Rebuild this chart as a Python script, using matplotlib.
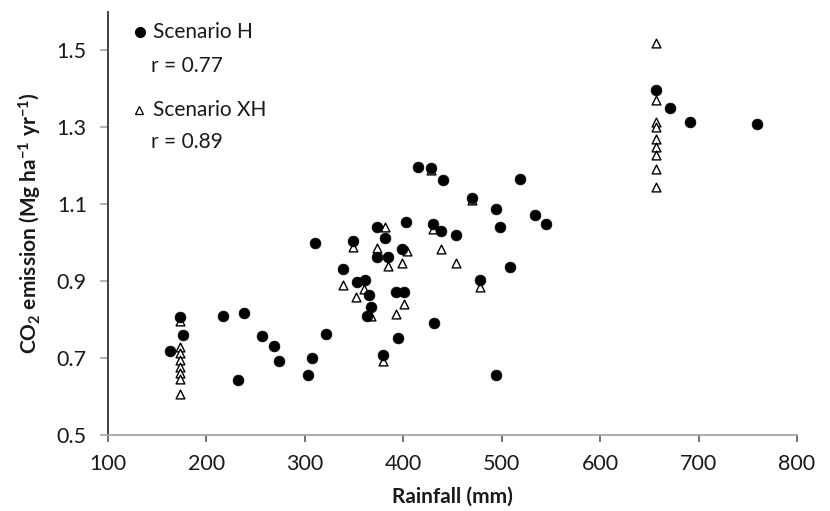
import matplotlib
matplotlib.use("Agg")
import matplotlib.pyplot as plt
import numpy as np

plt.rcParams['font.family'] = ['Lato', 'DejaVu Sans']
plt.rcParams['mathtext.fontset'] = 'custom'
plt.rcParams['mathtext.rm'] = 'Lato'
plt.rcParams['mathtext.bf'] = 'Lato:bold'
plt.rcParams['mathtext.it'] = 'Lato:italic'

# Scenario H (filled circles)
h_rain = [173, 176, 163, 217, 238, 257, 269, 274, 232, 307, 303,
          415, 428, 440, 373, 403, 430, 438, 454, 310, 349, 382,
          373, 385, 399, 339, 353, 361, 365, 393, 401, 367, 363,
          431, 322, 395, 380,
          519, 470, 494, 534, 545, 498, 508, 478, 494,
          657, 671, 691, 759]
h_co2 = [0.807, 0.760, 0.719, 0.809, 0.817, 0.757, 0.731, 0.692, 0.643, 0.700, 0.655,
         1.197, 1.195, 1.164, 1.041, 1.054, 1.050, 1.030, 1.019, 1.000, 1.005, 1.012,
         0.963, 0.963, 0.983, 0.931, 0.898, 0.904, 0.864, 0.871, 0.871, 0.832, 0.810,
         0.790, 0.762, 0.751, 0.708,
         1.165, 1.116, 1.089, 1.073, 1.048, 1.041, 0.937, 0.904, 0.656,
         1.396, 1.351, 1.314, 1.310]

# Scenario XH (open triangles)
xh_rain = [173, 173, 173, 173, 173, 173, 173, 173,
           428, 382, 430, 349, 373, 385, 404, 399, 438, 454, 339, 352, 360,
           401, 393, 367, 380, 478, 470,
           657, 657, 657, 657, 657, 657, 657, 657, 657]
xh_co2 = [0.797, 0.729, 0.712, 0.695, 0.677, 0.662, 0.645, 0.606,
          1.190, 1.041, 1.035, 0.989, 0.986, 0.939, 0.978, 0.948, 0.985, 0.948, 0.890, 0.859, 0.881,
          0.840, 0.814, 0.810, 0.693, 0.885, 1.110,
          1.519, 1.370, 1.315, 1.300, 1.271, 1.249, 1.227, 1.191, 1.146]

x_ticks = [100, 200, 300, 400, 500, 600, 700, 800]
y_ticks = [0.5, 0.7, 0.9, 1.1, 1.3, 1.5]

fig = plt.figure(figsize=(8.30, 5.11), dpi=100)
ax = fig.add_axes([0.1298, 0.1487, 0.8305, 0.8278])

ax.scatter(xh_rain, xh_co2, marker='^', s=40, facecolor='white',
           edgecolor='black', linewidth=1.0, zorder=3)
ax.scatter(h_rain, h_co2, marker='o', s=60, facecolor='black',
           edgecolor='black', linewidth=0.5, zorder=4)

ax.set_xlim(100, 800)
ax.set_ylim(0.5, 1.6)
ax.set_xticks(x_ticks)
ax.set_xticklabels([str(v) for v in x_ticks])
ax.set_yticks(y_ticks)
ax.set_yticklabels([f"{v:.1f}" for v in y_ticks])

for s in ['top', 'right']:
    ax.spines[s].set_visible(False)
ax.spines['left'].set_color('#333333')
ax.spines['left'].set_linewidth(1.3)
ax.spines['bottom'].set_color('#a6a6a6')
ax.spines['bottom'].set_linewidth(1.3)

ax.tick_params(axis='x', direction='out', length=5, width=1.2, color='#595959',
               labelsize=15.5, pad=9, labelcolor='#1a1a1a')
ax.tick_params(axis='y', direction='out', length=6, width=1.2, color='#a6a6a6',
               labelsize=15.5, pad=9, labelcolor='#1a1a1a')

ax.set_xlabel('Rainfall (mm)', fontsize=15, fontweight='bold', labelpad=9,
              color='#1a1a1a')
ax.set_ylabel(r'CO$_\mathbf{2}$ emission (Mg ha$^{\mathbf{-1}}$ yr$^{\mathbf{-1}}$)',
              fontsize=15, fontweight='bold', labelpad=9, color='#1a1a1a')

# In-plot legend text
ax.plot([0.047], [0.953], marker='o', markersize=7, color='black',
        transform=ax.transAxes, clip_on=False)
ax.text(0.0657, 0.953, 'Scenario H', transform=ax.transAxes, fontsize=15,
        va='center', ha='left', color='#1a1a1a')
ax.text(0.0628, 0.872, 'r = 0.77', transform=ax.transAxes, fontsize=15,
        va='center', ha='left', color='#1a1a1a')
ax.plot([0.0454], [0.768], marker='^', markersize=6, markerfacecolor='white',
        markeredgecolor='black', markeredgewidth=0.9,
        transform=ax.transAxes, clip_on=False)
ax.text(0.0657, 0.768, 'Scenario XH', transform=ax.transAxes, fontsize=15,
        va='center', ha='left', color='#1a1a1a')
ax.text(0.0628, 0.693, 'r = 0.89', transform=ax.transAxes, fontsize=15,
        va='center', ha='left', color='#1a1a1a')

fig.savefig('out.png', dpi=100)
